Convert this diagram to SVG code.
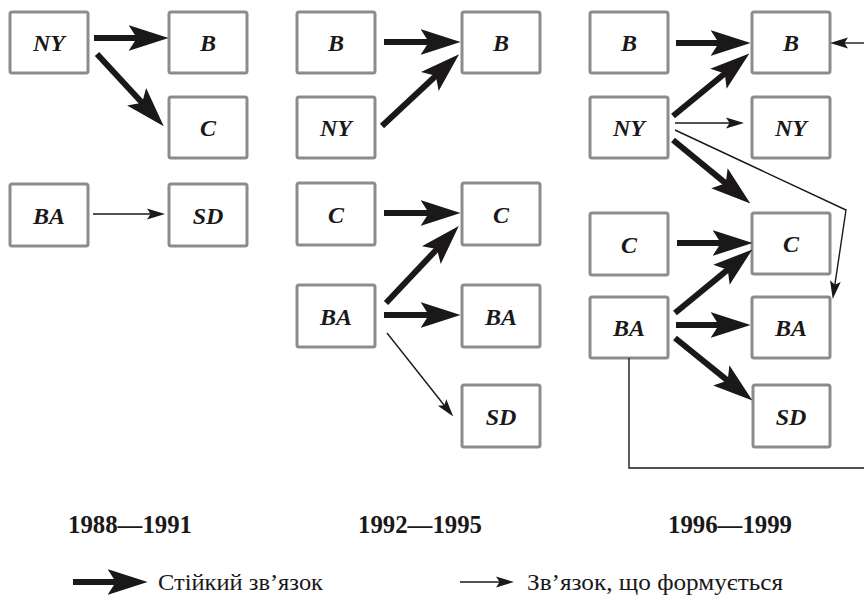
<svg xmlns="http://www.w3.org/2000/svg" width="864" height="595" viewBox="0 0 864 595">
<style>
.box{fill:#fff;stroke:#8c8c8c;stroke-width:3}
.lbl{font-family:'Liberation Serif','Times New Roman',serif;font-weight:bold;font-style:italic;font-size:24px;text-anchor:middle;fill:#1a1818}
.thick{stroke:#1a1818;stroke-width:6;fill:none}
.thin{stroke:#1a1818;stroke-width:1.4;fill:none}
.year{font-family:'Liberation Serif','Times New Roman',serif;font-weight:bold;font-size:25px;fill:#1a1818;text-anchor:middle}
.leg{font-family:'Liberation Serif','Times New Roman',serif;font-size:23px;fill:#1a1818}
</style>
<defs>
<marker id="hb" markerUnits="userSpaceOnUse" markerWidth="40" markerHeight="30" viewBox="0 -12 34 24" refX="8" refY="0" orient="auto">
<path d="M0,-11 L34,0 L0,11 L7,0 Z" fill="#1a1818"/>
</marker>
<marker id="hs" markerUnits="userSpaceOnUse" markerWidth="20" markerHeight="12" viewBox="0 -5 15 10" refX="5" refY="0" orient="auto">
<path d="M0,-4.5 L15,0 L0,4.5 L3,0 Z" fill="#1a1818"/>
</marker>
</defs>

<g id="c1-NY"><rect class="box" x="10" y="12" width="78" height="61" rx="2"/><text class="lbl" x="49" y="51">NY</text></g>
<g id="c1-B"><rect class="box" x="169" y="12" width="78" height="61" rx="2"/><text class="lbl" x="208" y="51">B</text></g>
<g id="c1-C"><rect class="box" x="169" y="97" width="78" height="61" rx="2"/><text class="lbl" x="208" y="136">C</text></g>
<g id="c1-BA"><rect class="box" x="10" y="184" width="78" height="62" rx="2"/><text class="lbl" x="49" y="224">BA</text></g>
<g id="c1-SD"><rect class="box" x="169" y="184" width="78" height="62" rx="2"/><text class="lbl" x="208" y="224">SD</text></g>

<g id="c2-B1"><rect class="box" x="297" y="12" width="78" height="61" rx="2"/><text class="lbl" x="336" y="51">B</text></g>
<g id="c2-B2"><rect class="box" x="462" y="12" width="78" height="61" rx="2"/><text class="lbl" x="501" y="51">B</text></g>
<g id="c2-NY"><rect class="box" x="297" y="97" width="78" height="61" rx="2"/><text class="lbl" x="336" y="136">NY</text></g>
<g id="c2-C1"><rect class="box" x="297" y="183" width="78" height="62" rx="2"/><text class="lbl" x="336" y="223">C</text></g>
<g id="c2-C2"><rect class="box" x="462" y="183" width="78" height="62" rx="2"/><text class="lbl" x="501" y="223">C</text></g>
<g id="c2-BA1"><rect class="box" x="297" y="285" width="78" height="62" rx="2"/><text class="lbl" x="336" y="325">BA</text></g>
<g id="c2-BA2"><rect class="box" x="462" y="285" width="78" height="62" rx="2"/><text class="lbl" x="501" y="325">BA</text></g>
<g id="c2-SD"><rect class="box" x="462" y="385" width="78" height="62" rx="2"/><text class="lbl" x="501" y="425">SD</text></g>

<g id="c3-B1"><rect class="box" x="590" y="12" width="78" height="61" rx="2"/><text class="lbl" x="629" y="51">B</text></g>
<g id="c3-B2"><rect class="box" x="752" y="12" width="78" height="61" rx="2"/><text class="lbl" x="791" y="51">B</text></g>
<g id="c3-NY1"><rect class="box" x="590" y="97" width="78" height="61" rx="2"/><text class="lbl" x="629" y="136">NY</text></g>
<g id="c3-NY2"><rect class="box" x="752" y="97" width="78" height="61" rx="2"/><text class="lbl" x="791" y="136">NY</text></g>
<g id="c3-C1"><rect class="box" x="590" y="213" width="78" height="62" rx="2"/><text class="lbl" x="629" y="253">C</text></g>
<g id="c3-C2"><rect class="box" x="752" y="213" width="78" height="61" rx="2"/><text class="lbl" x="791" y="252">C</text></g>
<g id="c3-BA1"><rect class="box" x="590" y="297" width="78" height="61" rx="2"/><text class="lbl" x="629" y="336">BA</text></g>
<g id="c3-BA2"><rect class="box" x="752" y="297" width="78" height="61" rx="2"/><text class="lbl" x="791" y="336">BA</text></g>
<g id="c3-SD"><rect class="box" x="753" y="385" width="77" height="62" rx="2"/><text class="lbl" x="791" y="425">SD</text></g>

<g id="connectors">
<line class="thick" x1="94" y1="38" x2="138" y2="38" marker-end="url(#hb)"/>
<line class="thick" x1="97" y1="54" x2="143" y2="103.7" marker-end="url(#hb)"/>
<line class="thin" x1="93" y1="214" x2="153" y2="214" marker-end="url(#hs)"/>

<line class="thick" x1="384" y1="42" x2="430" y2="42" marker-end="url(#hb)"/>
<line class="thick" x1="382" y1="126" x2="436.7" y2="75" marker-end="url(#hb)"/>
<line class="thick" x1="384" y1="213" x2="430" y2="213" marker-end="url(#hb)"/>
<line class="thick" x1="386" y1="303" x2="437.8" y2="248.2" marker-end="url(#hb)"/>
<line class="thick" x1="384" y1="315" x2="430" y2="315" marker-end="url(#hb)"/>
<line class="thin" x1="387" y1="333" x2="445.8" y2="407.2" marker-end="url(#hs)"/>

<line class="thick" x1="676" y1="43" x2="720" y2="43" marker-end="url(#hb)"/>
<line class="thick" x1="673" y1="116" x2="725.7" y2="72.8" marker-end="url(#hb)"/>
<line class="thin" x1="675" y1="123" x2="732" y2="123" marker-end="url(#hs)"/>
<line class="thick" x1="673" y1="140" x2="726.7" y2="184.1" marker-end="url(#hb)"/>
<polyline class="thin" points="675,130 846,210 834.5,287.1" marker-end="url(#hs)"/>
<line class="thick" x1="677" y1="243" x2="722" y2="243" marker-end="url(#hb)"/>
<line class="thick" x1="675" y1="313" x2="728.7" y2="268.9" marker-end="url(#hb)"/>
<line class="thick" x1="676" y1="325" x2="720" y2="325" marker-end="url(#hb)"/>
<line class="thick" x1="675" y1="338" x2="728.6" y2="381.3" marker-end="url(#hb)"/>
<polyline class="thin" points="629,358 629,468 864,468"/>
<line class="thin" x1="864" y1="43" x2="842" y2="43" marker-end="url(#hs)"/>
</g>

<g id="years">
<text class="year" x="130" y="533" textLength="124" lengthAdjust="spacingAndGlyphs">1988—1991</text>
<text class="year" x="420" y="533" textLength="124" lengthAdjust="spacingAndGlyphs">1992—1995</text>
<text class="year" x="730" y="533" textLength="124" lengthAdjust="spacingAndGlyphs">1996—1999</text>
</g>

<g id="legend">
<line class="thick" x1="73" y1="582" x2="117" y2="582" marker-end="url(#hb)"/>
<text class="leg" x="158" y="590" textLength="165" lengthAdjust="spacingAndGlyphs">Стійкий зв’язок</text>
<line class="thin" x1="460" y1="582" x2="502" y2="582" marker-end="url(#hs)"/>
<text class="leg" x="527" y="590" textLength="256" lengthAdjust="spacingAndGlyphs">Зв’язок, що формується</text>
</g>
</svg>
